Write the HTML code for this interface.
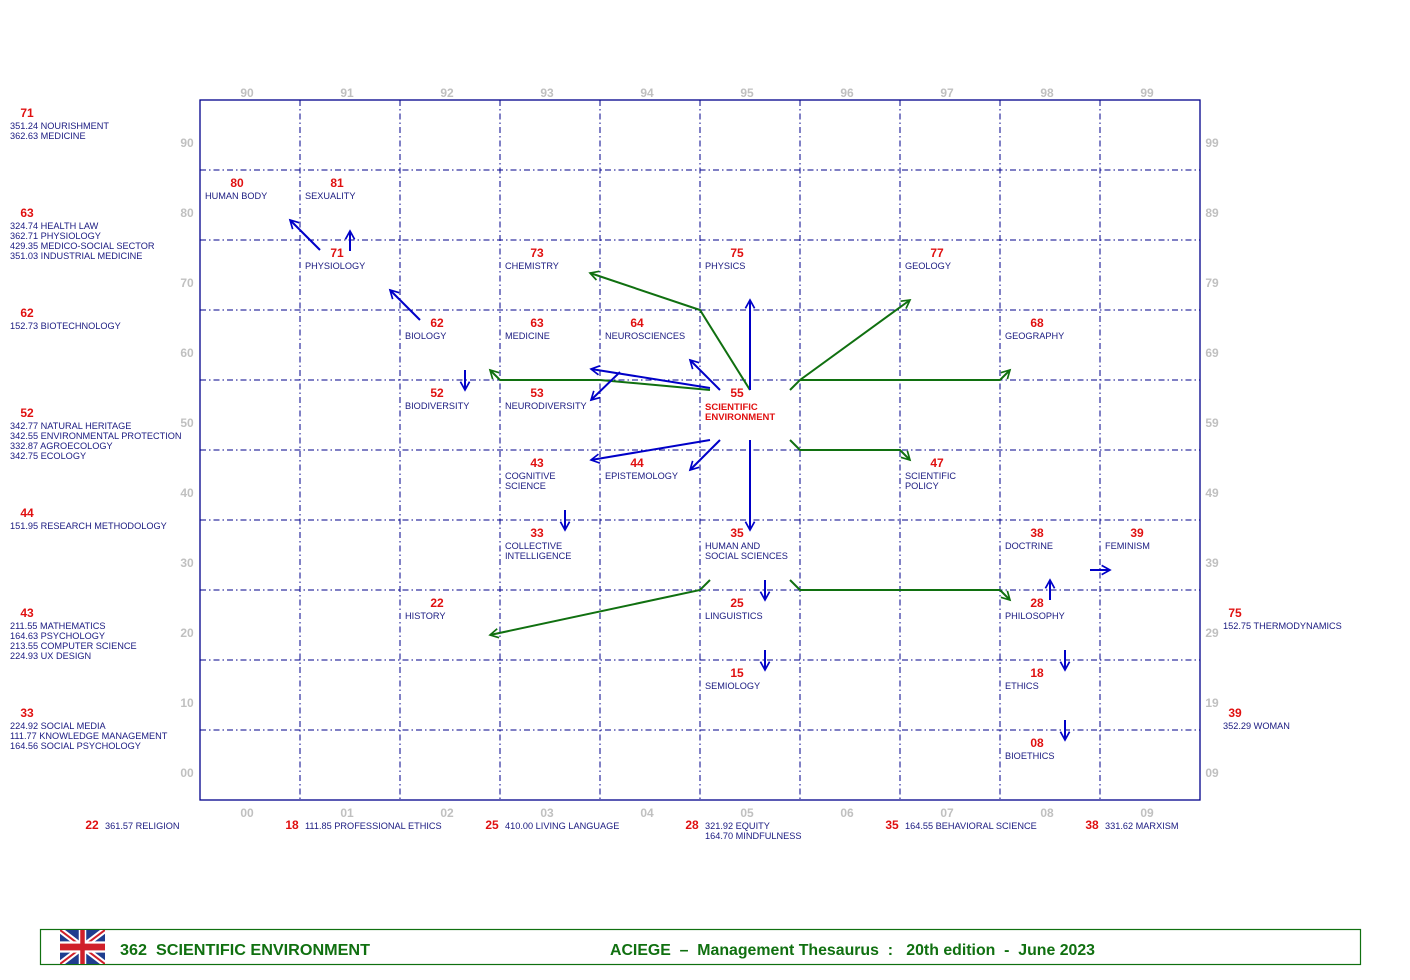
<!DOCTYPE html>
<html><head><meta charset="utf-8"><style>
html,body{margin:0;padding:0;background:#fff;}
svg{display:block;font-family:"Liberation Sans",Arial,sans-serif;}
.ax{fill:#c0c0c0;font-weight:bold;font-size:12px;text-anchor:middle}
.n{fill:#e01010;font-weight:bold;font-size:12px;text-anchor:middle}
.l{fill:#1a1a80;font-size:9.2px}
.r{fill:#e01010;font-size:9.5px;font-weight:bold}
.ln{fill:none;stroke:#00008b;stroke-width:1;stroke-dasharray:6,3,1.5,3}
.b{stroke:#0000c8;stroke-width:2;fill:none;marker-end:url(#ab)}
.g{stroke:#107010;stroke-width:2;fill:none;marker-end:url(#ag)}
</style></head><body>
<svg width="1410" height="980" viewBox="0 0 1410 980">
<defs>
<marker id="ab" viewBox="0 0 12 12" refX="11" refY="6" markerWidth="10" markerHeight="10" orient="auto" markerUnits="userSpaceOnUse" style="overflow:visible"><path d="M1,0.5 L11,6 L1,11.5" fill="none" stroke="#0000c8" stroke-width="2"/></marker>
<marker id="ag" viewBox="0 0 12 12" refX="11" refY="6" markerWidth="10" markerHeight="10" orient="auto" markerUnits="userSpaceOnUse" style="overflow:visible"><path d="M1,0.5 L11,6 L1,11.5" fill="none" stroke="#107010" stroke-width="2"/></marker>
</defs>
<g class="ln">
<line x1="300" y1="100" x2="300" y2="800"/><line x1="400" y1="100" x2="400" y2="800"/><line x1="500" y1="100" x2="500" y2="800"/><line x1="600" y1="100" x2="600" y2="800"/><line x1="700" y1="100" x2="700" y2="800"/><line x1="800" y1="100" x2="800" y2="800"/><line x1="900" y1="100" x2="900" y2="800"/><line x1="1000" y1="100" x2="1000" y2="800"/><line x1="1100" y1="100" x2="1100" y2="800"/>
<line x1="200" y1="170" x2="1200" y2="170"/><line x1="200" y1="240" x2="1200" y2="240"/><line x1="200" y1="310" x2="1200" y2="310"/><line x1="200" y1="380" x2="1200" y2="380"/><line x1="200" y1="450" x2="1200" y2="450"/><line x1="200" y1="520" x2="1200" y2="520"/><line x1="200" y1="590" x2="1200" y2="590"/><line x1="200" y1="660" x2="1200" y2="660"/><line x1="200" y1="730" x2="1200" y2="730"/>
</g>
<rect x="200" y="100" width="1000" height="700" fill="none" stroke="#00008b" stroke-width="1.3"/>
<g class="ax">
<text x="247" y="97">90</text><text x="347" y="97">91</text><text x="447" y="97">92</text><text x="547" y="97">93</text><text x="647" y="97">94</text><text x="747" y="97">95</text><text x="847" y="97">96</text><text x="947" y="97">97</text><text x="1047" y="97">98</text><text x="1147" y="97">99</text>
<text x="247" y="817">00</text><text x="347" y="817">01</text><text x="447" y="817">02</text><text x="547" y="817">03</text><text x="647" y="817">04</text><text x="747" y="817">05</text><text x="847" y="817">06</text><text x="947" y="817">07</text><text x="1047" y="817">08</text><text x="1147" y="817">09</text>
<text x="187" y="147">90</text><text x="187" y="217">80</text><text x="187" y="287">70</text><text x="187" y="357">60</text><text x="187" y="427">50</text><text x="187" y="497">40</text><text x="187" y="567">30</text><text x="187" y="637">20</text><text x="187" y="707">10</text><text x="187" y="777">00</text>
<text x="1212" y="147">99</text><text x="1212" y="217">89</text><text x="1212" y="287">79</text><text x="1212" y="357">69</text><text x="1212" y="427">59</text><text x="1212" y="497">49</text><text x="1212" y="567">39</text><text x="1212" y="637">29</text><text x="1212" y="707">19</text><text x="1212" y="777">09</text>
</g>
<g>
<text class="n" x="237" y="187">80</text><text class="l" x="205" y="199">HUMAN BODY</text>
<text class="n" x="337" y="187">81</text><text class="l" x="305" y="199">SEXUALITY</text>
<text class="n" x="337" y="257">71</text><text class="l" x="305" y="269">PHYSIOLOGY</text>
<text class="n" x="537" y="257">73</text><text class="l" x="505" y="269">CHEMISTRY</text>
<text class="n" x="737" y="257">75</text><text class="l" x="705" y="269">PHYSICS</text>
<text class="n" x="937" y="257">77</text><text class="l" x="905" y="269">GEOLOGY</text>
<text class="n" x="437" y="327">62</text><text class="l" x="405" y="339">BIOLOGY</text>
<text class="n" x="537" y="327">63</text><text class="l" x="505" y="339">MEDICINE</text>
<text class="n" x="637" y="327">64</text><text class="l" x="605" y="339">NEUROSCIENCES</text>
<text class="n" x="1037" y="327">68</text><text class="l" x="1005" y="339">GEOGRAPHY</text>
<text class="n" x="437" y="397">52</text><text class="l" x="405" y="409">BIODIVERSITY</text>
<text class="n" x="537" y="397">53</text><text class="l" x="505" y="409">NEURODIVERSITY</text>
<text class="n" x="737" y="397">55</text><text class="r" x="705" y="410">SCIENTIFIC</text><text class="r" x="705" y="420">ENVIRONMENT</text>
<text class="n" x="537" y="467">43</text><text class="l" x="505" y="479">COGNITIVE</text><text class="l" x="505" y="489">SCIENCE</text>
<text class="n" x="637" y="467">44</text><text class="l" x="605" y="479">EPISTEMOLOGY</text>
<text class="n" x="937" y="467">47</text><text class="l" x="905" y="479">SCIENTIFIC</text><text class="l" x="905" y="489">POLICY</text>
<text class="n" x="537" y="537">33</text><text class="l" x="505" y="549">COLLECTIVE</text><text class="l" x="505" y="559">INTELLIGENCE</text>
<text class="n" x="737" y="537">35</text><text class="l" x="705" y="549">HUMAN AND</text><text class="l" x="705" y="559">SOCIAL SCIENCES</text>
<text class="n" x="1037" y="537">38</text><text class="l" x="1005" y="549">DOCTRINE</text>
<text class="n" x="1137" y="537">39</text><text class="l" x="1105" y="549">FEMINISM</text>
<text class="n" x="437" y="607">22</text><text class="l" x="405" y="619">HISTORY</text>
<text class="n" x="737" y="607">25</text><text class="l" x="705" y="619">LINGUISTICS</text>
<text class="n" x="1037" y="607">28</text><text class="l" x="1005" y="619">PHILOSOPHY</text>
<text class="n" x="737" y="677">15</text><text class="l" x="705" y="689">SEMIOLOGY</text>
<text class="n" x="1037" y="677">18</text><text class="l" x="1005" y="689">ETHICS</text>
<text class="n" x="1037" y="747">08</text><text class="l" x="1005" y="759">BIOETHICS</text>
</g>
<g>
<text class="n" x="27" y="117">71</text><text class="l" x="10" y="129">351.24 NOURISHMENT</text><text class="l" x="10" y="139">362.63 MEDICINE</text>
<text class="n" x="27" y="217">63</text><text class="l" x="10" y="229">324.74 HEALTH LAW</text><text class="l" x="10" y="239">362.71 PHYSIOLOGY</text><text class="l" x="10" y="249">429.35 MEDICO-SOCIAL SECTOR</text><text class="l" x="10" y="259">351.03 INDUSTRIAL MEDICINE</text>
<text class="n" x="27" y="317">62</text><text class="l" x="10" y="329">152.73 BIOTECHNOLOGY</text>
<text class="n" x="27" y="417">52</text><text class="l" x="10" y="429">342.77 NATURAL HERITAGE</text><text class="l" x="10" y="439">342.55 ENVIRONMENTAL PROTECTION</text><text class="l" x="10" y="449">332.87 AGROECOLOGY</text><text class="l" x="10" y="459">342.75 ECOLOGY</text>
<text class="n" x="27" y="517">44</text><text class="l" x="10" y="529">151.95 RESEARCH METHODOLOGY</text>
<text class="n" x="27" y="617">43</text><text class="l" x="10" y="629">211.55 MATHEMATICS</text><text class="l" x="10" y="639">164.63 PSYCHOLOGY</text><text class="l" x="10" y="649">213.55 COMPUTER SCIENCE</text><text class="l" x="10" y="659">224.93 UX DESIGN</text>
<text class="n" x="27" y="717">33</text><text class="l" x="10" y="729">224.92 SOCIAL MEDIA</text><text class="l" x="10" y="739">111.77 KNOWLEDGE MANAGEMENT</text><text class="l" x="10" y="749">164.56 SOCIAL PSYCHOLOGY</text>
<text class="n" x="1235" y="617">75</text><text class="l" x="1223" y="629">152.75 THERMODYNAMICS</text>
<text class="n" x="1235" y="717">39</text><text class="l" x="1223" y="729">352.29 WOMAN</text>
<text class="n" x="92" y="829">22</text><text class="l" x="105" y="829">361.57 RELIGION</text>
<text class="n" x="292" y="829">18</text><text class="l" x="305" y="829">111.85 PROFESSIONAL ETHICS</text>
<text class="n" x="492" y="829">25</text><text class="l" x="505" y="829">410.00 LIVING LANGUAGE</text>
<text class="n" x="692" y="829">28</text><text class="l" x="705" y="829">321.92 EQUITY</text><text class="l" x="705" y="839">164.70 MINDFULNESS</text>
<text class="n" x="892" y="829">35</text><text class="l" x="905" y="829">164.55 BEHAVIORAL SCIENCE</text>
<text class="n" x="1092" y="829">38</text><text class="l" x="1105" y="829">331.62 MARXISM</text>
</g>
<polyline class="g" points="750,390 700,310 590,273"/>
<polyline class="g" points="710,390 600,380 500,380 490,370"/>
<polyline class="g" points="790,390 800,380 910,300"/>
<polyline class="g" points="800,380 1000,380 1010,370"/>
<polyline class="g" points="790,440 800,450 900,450 910,460"/>
<polyline class="g" points="790,580 800,590 1000,590 1010,600"/>
<polyline class="g" points="710,580 700,590 490,635"/>
<line class="b" x1="320" y1="250" x2="290" y2="220"/>
<line class="b" x1="350" y1="251" x2="350" y2="231"/>
<line class="b" x1="420" y1="320" x2="390" y2="290"/>
<line class="b" x1="465" y1="370" x2="465" y2="390"/>
<line class="b" x1="565" y1="510" x2="565" y2="530"/>
<line class="b" x1="750" y1="390" x2="750" y2="300"/>
<line class="b" x1="720" y1="390" x2="690" y2="360"/>
<line class="b" x1="710" y1="388" x2="591" y2="369"/>
<line class="b" x1="620" y1="372" x2="591" y2="400"/>
<line class="b" x1="710" y1="440" x2="591" y2="460"/>
<line class="b" x1="720" y1="440" x2="690" y2="470"/>
<line class="b" x1="750" y1="440" x2="750" y2="530"/>
<line class="b" x1="765" y1="580" x2="765" y2="600"/>
<line class="b" x1="765" y1="650" x2="765" y2="670"/>
<line class="b" x1="1065" y1="650" x2="1065" y2="670"/>
<line class="b" x1="1065" y1="720" x2="1065" y2="740"/>
<line class="b" x1="1050" y1="600" x2="1050" y2="580"/>
<line class="b" x1="1090" y1="570" x2="1110" y2="570"/>
<rect x="40.5" y="929.5" width="1320" height="35" fill="none" stroke="#107010" stroke-width="1.2"/>
<svg x="60" y="930" width="45" height="34" viewBox="0 0 60 30" preserveAspectRatio="none">
<rect width="60" height="30" fill="#1f3d8f"/>
<path d="M0,0 L60,30 M60,0 L0,30" stroke="#fff" stroke-width="6"/>
<path d="M0,0 L60,30 M60,0 L0,30" stroke="#d0202a" stroke-width="2"/>
<path d="M30,0 V30 M0,15 H60" stroke="#fff" stroke-width="10"/>
<path d="M30,0 V30 M0,15 H60" stroke="#d0202a" stroke-width="6"/>
</svg>
<text x="120" y="955" fill="#107010" font-weight="bold" font-size="16" textLength="250" lengthAdjust="spacingAndGlyphs" xml:space="preserve">362  SCIENTIFIC ENVIRONMENT</text>
<text x="610" y="955" fill="#107010" font-weight="bold" font-size="16" textLength="485" lengthAdjust="spacingAndGlyphs" xml:space="preserve">ACIEGE  –  Management Thesaurus  :   20th edition  -  June 2023</text>
</svg>
</body></html>
